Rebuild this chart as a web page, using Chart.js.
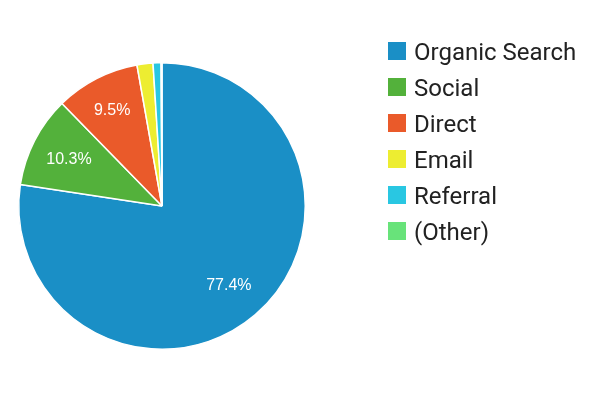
<!DOCTYPE html>
<html>
<head>
<meta charset="utf-8">
<script src="https://cdn.jsdelivr.net/npm/chart.js@4"></script>
<style>
  html, body { margin: 0; padding: 0; background: #fff; }
  #wrap { position: relative; width: 612px; height: 396px; overflow: hidden; }
  #chart { position: absolute; left: 0; top: 0; }
  .legend-item { position: absolute; left: 388px; height: 28px; white-space: nowrap; }
  .legend-item .swatch { position: absolute; left: 0; top: 4px; width: 18px; height: 18px; }
  .legend-item .name { position: absolute; left: 26px; top: 0; font: 24px Roboto, sans-serif; line-height: 28px; color: #222; }
</style>
</head>
<body>
<div id="wrap">
  <canvas id="chart" width="612" height="396"></canvas>
  <div id="legend"></div>
</div>
<script>
// Traffic channels, share of sessions (%)
const channels = ['Organic Search', 'Social', 'Direct', 'Email', 'Referral', '(Other)'];
const shares = [77.4, 10.3, 9.5, 1.8, 0.9, 0.1];
const sliceColors = ['#1a8fc6', '#53b13b', '#ea5a2a', '#eded31', '#29c7e2', '#68e37a'];

// Percent text inside the slices, pushed outward until it fits the wedge
const sliceLabels = {
    id: 'sliceLabels',
    afterDatasetsDraw(chart) {
        const ctx = chart.ctx;
        const meta = chart.getDatasetMeta(0);
        const total = shares.reduce((a, b) => a + b, 0);
        ctx.save();
        ctx.font = '16px "Liberation Sans", Arial, sans-serif';
        ctx.fillStyle = '#fff';
        ctx.textAlign = 'center';
        ctx.textBaseline = 'alphabetic';
        const hh = 16 * 0.716 / 2;
        const margin = 13;
        meta.data.forEach((arc, i) => {
            const p = arc.getProps(['x', 'y', 'startAngle', 'endAngle', 'outerRadius'], true);
            const text = (shares[i] / total * 100).toFixed(1) + '%';
            const hw = ctx.measureText(text).width / 2;
            const mid = (p.startAngle + p.endAngle) / 2;
            const span = p.endAngle - p.startAngle;
            const R = p.outerRadius;
            for (let d = 0.716 * R; d < R; d += 0.5) {
                const cx = d * Math.cos(mid), cy = d * Math.sin(mid);
                const corners = [[cx - hw, cy - hh], [cx + hw, cy - hh], [cx - hw, cy + hh], [cx + hw, cy + hh]];
                let ok = corners.every(c => Math.hypot(c[0], c[1]) < R - 4);
                if (ok && span < Math.PI) {
                    const sx = Math.cos(p.startAngle), sy = Math.sin(p.startAngle);
                    const ex = Math.cos(p.endAngle), ey = Math.sin(p.endAngle);
                    corners.forEach(c => {
                        if (sx * c[1] - sy * c[0] < margin) ok = false;
                        if (-(ex * c[1] - ey * c[0]) < margin) ok = false;
                    });
                }
                if (ok) {
                    ctx.fillText(text, p.x + cx, p.y + cy + hh);
                    break;
                }
            }
        });
        ctx.restore();
    }
};

const ctx = document.getElementById('chart').getContext('2d');
const chart = new Chart(ctx, {
    type: 'pie',
    data: {
        labels: channels,
        datasets: [{
            data: shares,
            backgroundColor: sliceColors,
            borderColor: '#fff',
            borderWidth: 1.5
        }]
    },
    options: {
        responsive: false,
        animation: false,
        layout: {
            padding: { left: 18, top: 62, right: 306, bottom: 46 }
        },
        plugins: {
            legend: { display: false },
            tooltip: { enabled: false }
        }
    },
    plugins: [sliceLabels]
});

// Legend on the right
const legend = document.getElementById('legend');
channels.forEach((name, i) => {
    const item = document.createElement('div');
    item.className = 'legend-item';
    item.style.top = (38 + i * 36) + 'px';
    item.innerHTML = '<div class="swatch" style="background:' + sliceColors[i] + '"></div>' +
        '<div class="name">' + name + '</div>';
    legend.appendChild(item);
});
</script>
</body>
</html>
